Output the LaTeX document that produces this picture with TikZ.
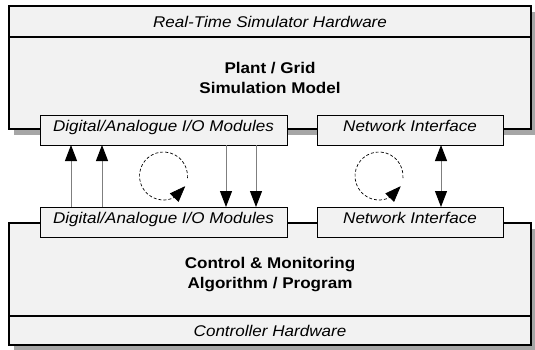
\documentclass[tikz,border=0pt]{standalone}
\usepackage{fontspec}
\setmainfont{Liberation Sans}[FakeStretch=1.1]
\usetikzlibrary{arrows.meta,
                bending,
                calc,
                positioning,
                shadows}
\definecolor{boxgray}{HTML}{F2F2F2}
\definecolor{shadegray}{HTML}{A6A6A6}
\definecolor{wiregray}{HTML}{7F7F7F}

\begin{document}
\begin{tikzpicture}[x=1pt, y=-1pt,
    font=\fontsize{15.5}{20}\selectfont,
    >={Triangle[length=16pt, width=12pt, color=black]},
   BOX/.style = {draw, line width=1.2pt, fill=boxgray,
                 inner sep=0pt, outer sep=0pt},
   OUT/.style = {BOX, minimum width=522pt,
                 drop shadow={shadow xshift=5pt, shadow yshift=-6pt,
                              fill=shadegray, opacity=1}},
   BAR/.style = {BOX, minimum width=522pt, font=\fontsize{15.5}{20}\selectfont\itshape},
   MOD/.style = {BOX, line width=1pt, minimum height=30pt,
                 text height=12.5pt, text depth=9.5pt, inner ysep=4pt,
                 font=\fontsize{15.5}{20}\selectfont\itshape},
   TTL/.style = {align=center, inner sep=0pt,
                 font=\fontsize{15.5}{20}\selectfont\bfseries},
   SIG/.style = {draw=wiregray, line width=1pt},   % wire, grey
  LOOP/.style = {dash pattern=on 3pt off 2pt, line width=.7pt,
                 -{Triangle[length=16pt, width=12pt, color=black]}}
                        ]
\useasboundingbox (0,0) rectangle (535,349);
% simulator side
\node (sim)   [OUT, minimum height=123pt, anchor=north west] at (9,6) {};
\node (simhw) [BAR, minimum height=31pt, anchor=north] at (sim.north)
              {Real-Time Simulator Hardware};
\node (plant) [TTL, below=25.5pt of simhw] {Plant / Grid\\Simulation Model};
\node (daTop)  [MOD, minimum width=247pt, anchor=north west] at (40,115)
               {Digital/Analogue I/O Modules};
\node (netTop) [MOD, minimum width=186pt, right=30pt of daTop] {Network Interface};
% controller side
\node (ctl)   [OUT, minimum height=122pt, anchor=north west] at (9,223) {};
\node (ctlhw) [BAR, minimum height=29pt, anchor=south] at (ctl.south)
              {Controller Hardware};
\node (algo)  [TTL, above=24.5pt of ctlhw] {Control \& Monitoring\\Algorithm / Program};
\node (daBot)  [MOD, minimum width=247pt, anchor=north west] at (40,207)
               {Digital/Analogue I/O Modules};
\node (netBot) [MOD, minimum width=186pt, right=30pt of daBot] {Network Interface};
% signals
\draw[SIG, ->] ([xshift=31pt]daBot.north west) -- ([xshift=31pt]daTop.south west);
\draw[SIG, ->] ([xshift=62pt]daBot.north west) -- ([xshift=62pt]daTop.south west);
\draw[SIG, ->] ([xshift=-61pt]daTop.south east) -- ([xshift=-61pt]daBot.north east);
\draw[SIG, ->] ([xshift=-31pt]daTop.south east) -- ([xshift=-31pt]daBot.north east);
\draw[SIG, <->] ([xshift=31pt]netTop.south) -- ([xshift=31pt]netBot.north);
% loops
\draw[LOOP] ($(daTop.south)!.5!(daBot.north)$) ++(-5:24pt)
            arc[start angle=-5, end angle=335, radius=24pt];
\draw[LOOP] ([xshift=-31pt]$(netTop.south)!.5!(netBot.north)$) ++(-5:24pt)
            arc[start angle=-5, end angle=335, radius=24pt];
\end{tikzpicture}
\end{document}
